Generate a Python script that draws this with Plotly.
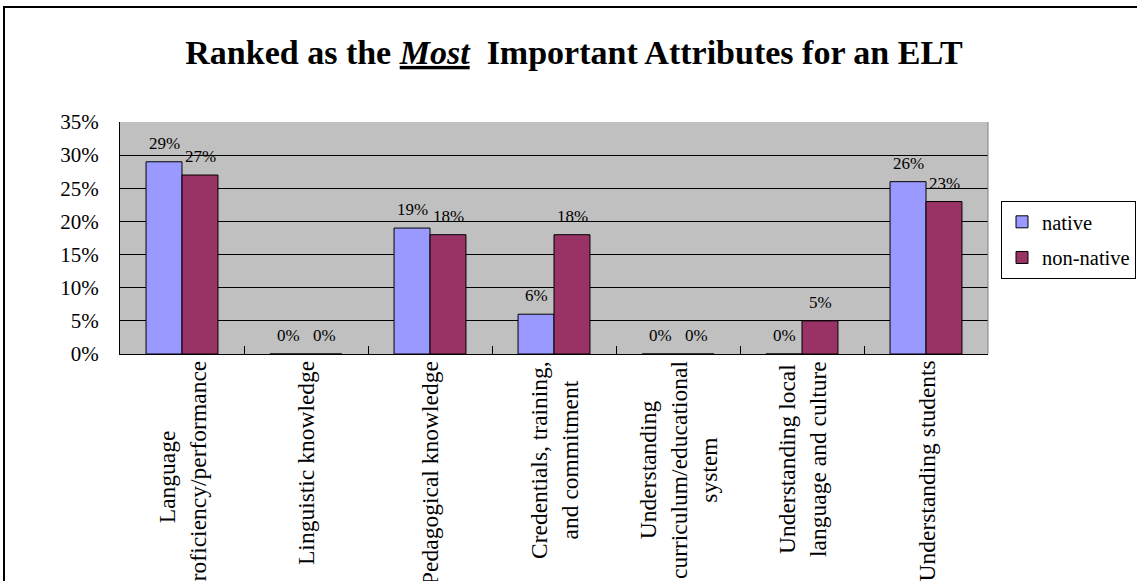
import plotly.graph_objects as go

categories = [
    "Language<br>proficiency/performance",
    "Linguistic knowledge",
    "Pedagogical knowledge",
    "Credentials, training,<br>and commitment",
    "Understanding<br>curriculum/educational<br>system",
    "Understanding local<br>language and culture",
    "Understanding students",
]
native = [0.29, 0.00, 0.19, 0.06, 0.00, 0.00, 0.26]
non_native = [0.27, 0.00, 0.18, 0.18, 0.00, 0.05, 0.23]
series_names = ["native", "non-native"]
y_ticks = [0, 0.05, 0.10, 0.15, 0.20, 0.25, 0.30, 0.35]

FONT = "Liberation Serif"
W, H = 1137, 581
L, R, T, B = 120, 988, 122, 354

fig = go.Figure()
series = [(series_names[0], native, "#9999FF", -18), (series_names[1], non_native, "#993366", 18)]
for name, vals, col, shift in series:
    fig.add_trace(go.Bar(
        x=categories, y=vals, name=name, legendgroup=name,
        marker=dict(color=col, line=dict(color="black", width=1)),
    ))
    for c, v in zip(categories, vals):
        fig.add_annotation(
            x=c, y=v, xref="x", yref="y", xshift=shift, yshift=7,
            xanchor="center", yanchor="bottom", showarrow=False,
            text=f"{round(v * 100)}%",
            font=dict(family=FONT, size=17, color="black"),
        )

for c in categories:
    fig.add_annotation(
        x=c, xref="x", y=0, yref="paper", yanchor="top", xanchor="center",
        yshift=-5, text=c, textangle=-90, align="center", showarrow=False,
        font=dict(family=FONT, size=23.5, color="black"),
    )

pw, ph = R - L, B - T
def px_x(p):
    return (p - L) / pw
def px_y(p):
    return (B - p) / ph

shapes = [
    dict(type="line", xref="paper", yref="paper", x0=1, x1=1, y0=0, y1=1,
         line=dict(color="#808080", width=1)),
    dict(type="rect", xref="paper", yref="paper", x0=px_x(4), x1=px_x(1300),
         y0=px_y(800), y1=px_y(7), line=dict(color="black", width=2), layer="below"),
]

fig.update_layout(
    width=W, height=H,
    margin=dict(l=L, r=W - R, t=T, b=H - B, pad=0, autoexpand=False),
    paper_bgcolor="white", plot_bgcolor="#C0C0C0",
    font=dict(family=FONT, color="black"),
    title=dict(
        text="<b>Ranked as the <i><u>Most</u></i>&nbsp; Important Attributes for an ELT</b>",
        x=574 / W, xanchor="center", y=1 - 52 / H, yanchor="middle",
        font=dict(family=FONT, size=34, color="black"),
    ),
    barmode="group", bargap=0.42, bargroupgap=0,
    showlegend=True,
    legend=dict(
        x=px_x(1136), y=px_y(201), xanchor="right", yanchor="top",
        bgcolor="white", bordercolor="black", borderwidth=1,
        traceorder="grouped", tracegroupgap=6,
        font=dict(family=FONT, size=20.5, color="black"),
    ),
    xaxis=dict(
        showticklabels=False, ticks="inside", tickson="boundaries", ticklen=8,
        tickcolor="black", showline=True, linecolor="black", linewidth=1,
        showgrid=False, zeroline=False,
    ),
    yaxis=dict(
        range=[0, 0.35], tickvals=y_ticks, tickformat=".0%",
        ticks="outside", ticklen=16, tickcolor="rgba(0,0,0,0)",
        tickfont=dict(family=FONT, size=21, color="black"),
        showgrid=True, gridcolor="black", gridwidth=1,
        showline=True, linecolor="black", linewidth=1, zeroline=False,
    ),
    shapes=shapes,
)

fig.write_html("out.html")
